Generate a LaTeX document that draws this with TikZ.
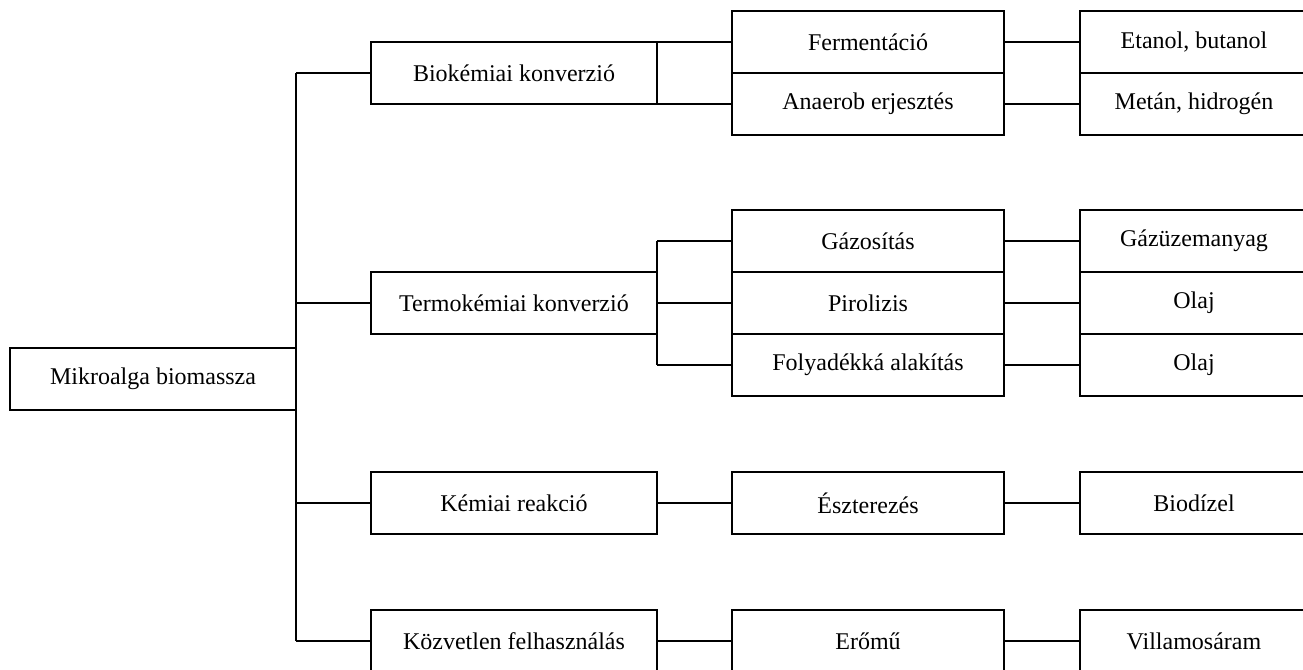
\documentclass[tikz,border=0pt]{standalone}
\usepackage{fontspec}
\setmainfont{Liberation Serif}
\usepackage{tikz}
\usetikzlibrary{positioning}
\tikzset{
    block/.style={rectangle, draw, line width=0.6pt, outer sep=0pt, inner sep=2pt, align=center, minimum width=143pt, minimum height=31pt, font=\fontsize{12}{14}\selectfont},
    subblock/.style={block, minimum width=136pt},
    endblock/.style={block, minimum width=114pt},
    link/.style={line width=0.6pt}
}
\begin{document}
\begin{tikzpicture}[x=0.5pt, y=-0.5pt, node distance=37.5pt]
            \useasboundingbox (0,0) rectangle (1303,670);
            \clip (0,0) rectangle (1303,670);
            % first two columns
            \node[block] (root) at (153,379) {Mikroalga biomassza};
            \node[block] (bio) at (514,73) {Biokémiai konverzió};
            \node[block] (termo) at (514,303) {Termokémiai konverzió};
            \node[block] (kem) at (514,503) {Kémiai reakció};
            \node[block] (kozv) at (514,641) {Közvetlen felhasználás};

            % processes
            \node[subblock, right=of bio.north east] (ferm) {Fermentáció};
            \node[subblock, below=0pt of ferm] (anaer) {Anaerob erjesztés};
            \node[subblock, right=of termo] (pir) {Pirolizis};
            \node[subblock, above=0pt of pir] (gaz) {Gázosítás};
            \node[subblock, below=0pt of pir] (foly) {Folyadékká alakítás};
            \node[subblock, right=of kem] (eszt) {Észterezés};
            \node[subblock, right=of kozv] (erom) {Erőmű};

            % products
            \node[endblock, right=38pt of ferm] (etanol) {Etanol, butanol};
            \node[endblock, right=38pt of anaer] (metan) {Metán, hidrogén};
            \node[endblock, right=38pt of gaz] (gazuz) {Gázüzemanyag};
            \node[endblock, right=38pt of pir] (olaj1) {Olaj};
            \node[endblock, right=38pt of foly] (olaj2) {Olaj};
            \node[endblock, right=38pt of eszt] (biod) {Biodízel};
            \node[endblock, right=38pt of erom] (villa) {Villamosáram};

            \draw[link] (root.east |- bio) -- (root.east |- kozv);
            \foreach \n in {bio, termo, kem, kozv}
                \draw[link] (root.east |- \n) -- (\n.west);
            \draw[link] (bio.east |- ferm) -- (ferm.west);
            \draw[link] (bio.east |- anaer) -- (anaer.west);
            \draw[link] (termo.east |- gaz) -- (termo.east |- foly);
            \foreach \n in {gaz, pir, foly}
                \draw[link] (termo.east |- \n) -- (\n.west);
            \draw[link] (kem) -- (eszt);
            \draw[link] (kozv) -- (erom);
            \draw[link] (ferm) -- (etanol);
            \draw[link] (anaer) -- (metan);
            \draw[link] (gaz) -- (gazuz);
            \draw[link] (pir) -- (olaj1);
            \draw[link] (foly) -- (olaj2);
            \draw[link] (eszt) -- (biod);
            \draw[link] (erom) -- (villa);
        \end{tikzpicture}
\end{document}
